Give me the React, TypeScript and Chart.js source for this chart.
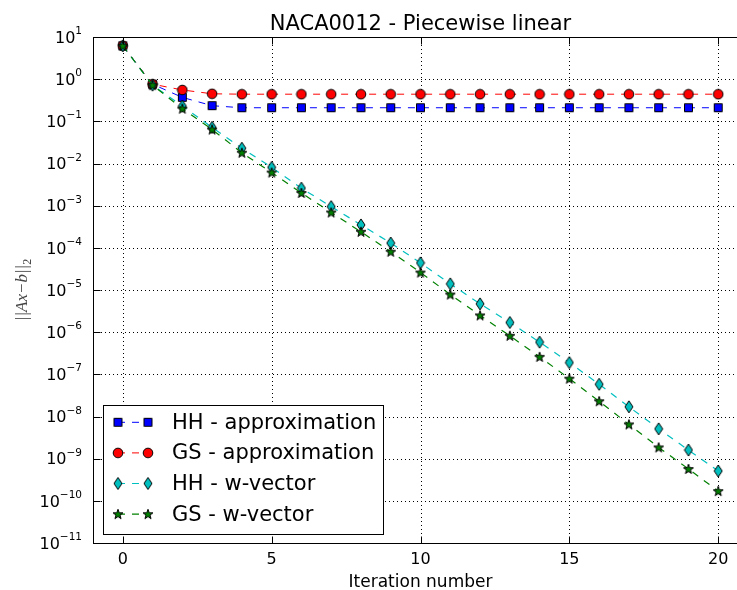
import React, { useEffect, useRef } from 'react';
import { Chart, registerables } from 'chart.js';

Chart.register(...registerables);

const iterations = [0, 1, 2, 3, 4, 5, 6, 7, 8, 9, 10, 11, 12, 13, 14, 15, 16, 17, 18, 19, 20];
const hhApprox = [6.2, 0.76, 0.37, 0.235, 0.21, 0.21, 0.21, 0.21, 0.21, 0.21, 0.21, 0.21, 0.21, 0.21, 0.21, 0.21, 0.21, 0.21, 0.21, 0.21, 0.21];
const gsApprox = [6.2, 0.76, 0.555, 0.45, 0.44, 0.44, 0.44, 0.44, 0.44, 0.44, 0.44, 0.44, 0.44, 0.44, 0.44, 0.44, 0.44, 0.44, 0.44, 0.44, 0.44];
const hhWvec = [6.2, 0.72, 0.23, 0.072, 0.023, 0.0081, 0.0026, 9.5e-4, 3.5e-4, 1.3e-4, 4.4e-5, 1.4e-5, 4.7e-6, 1.7e-6, 5.8e-7, 1.9e-7, 5.8e-8, 1.7e-8, 5.1e-9, 1.6e-9, 5.1e-10];
const gsWvec = [6.2, 0.72, 0.2, 0.064, 0.018, 0.0061, 0.002, 6.9e-4, 2.4e-4, 8.1e-5, 2.6e-5, 7.8e-6, 2.5e-6, 8.2e-7, 2.6e-7, 7.9e-8, 2.3e-8, 6.5e-9, 1.85e-9, 5.7e-10, 1.7e-10];

const seriesLabels = ['HH - approximation', 'GS - approximation', 'HH - w-vector', 'GS - w-vector'];
const xTickValues = [0, 5, 10, 15, 20];
const yTickExponents = [1, 0, -1, -2, -3, -4, -5, -6, -7, -8, -9, -10, -11];
const titleText = 'NACA0012 - Piecewise linear';
const xTitle = 'Iteration number';

const FONT = '"DejaVu Sans", sans-serif';

function makeMarker(kind: string, fill: string): HTMLCanvasElement {
  const c = document.createElement('canvas');
  const ctx = c.getContext('2d')!;
  ctx.lineWidth = 1;
  ctx.strokeStyle = '#000';
  ctx.fillStyle = fill;
  if (kind === 'square') {
    c.width = 11; c.height = 11;
    ctx.lineWidth = 1; ctx.strokeStyle = '#000'; ctx.fillStyle = fill;
    ctx.beginPath();
    ctx.rect(1.5, 1.5, 8, 8);
    ctx.fill(); ctx.stroke();
  } else if (kind === 'circle') {
    c.width = 12; c.height = 12;
    ctx.lineWidth = 1; ctx.strokeStyle = '#000'; ctx.fillStyle = fill;
    ctx.beginPath();
    ctx.arc(6, 6, 4.8, 0, Math.PI * 2);
    ctx.fill(); ctx.stroke();
  } else if (kind === 'diamond') {
    c.width = 10; c.height = 14;
    ctx.lineWidth = 1; ctx.strokeStyle = '#000'; ctx.fillStyle = fill;
    ctx.beginPath();
    ctx.moveTo(5, 1); ctx.lineTo(9, 7); ctx.lineTo(5, 13); ctx.lineTo(1, 7); ctx.closePath();
    ctx.fill(); ctx.stroke();
  } else {
    c.width = 12; c.height = 12;
    ctx.lineWidth = 1; ctx.strokeStyle = '#000'; ctx.fillStyle = fill;
    ctx.lineJoin = 'miter';
    ctx.beginPath();
    const cx = 6, cy = 6.4, ro = 5.2, ri = 2.1;
    for (let i = 0; i < 10; i++) {
      const r = i % 2 === 0 ? ro : ri;
      const ang = -Math.PI / 2 + (i * Math.PI) / 5;
      const px = cx + r * Math.cos(ang);
      const py = cy + r * Math.sin(ang);
      if (i === 0) ctx.moveTo(px, py); else ctx.lineTo(px, py);
    }
    ctx.closePath();
    ctx.fill(); ctx.stroke();
  }
  return c;
}

const mplPlugin = {
  id: 'mplPlugin',
  beforeDatasetsDraw(chart: any) {
    const { ctx, chartArea: a, scales } = chart;
    const x = scales.x, y = scales.y;
    ctx.save();
    ctx.strokeStyle = '#000';
    ctx.lineWidth = 1;
    ctx.setLineDash([1, 3]);
    ctx.beginPath();
    for (const v of xTickValues) {
      const px = Math.round(x.getPixelForValue(v)) + 0.5;
      ctx.moveTo(px, a.top); ctx.lineTo(px, a.bottom);
    }
    for (const e of yTickExponents) {
      const py = Math.round(y.getPixelForValue(Math.pow(10, e))) + 0.5;
      ctx.moveTo(a.left, py); ctx.lineTo(a.right, py);
    }
    ctx.stroke();
    ctx.restore();
  },
  afterDatasetsDraw(chart: any) {
    const { ctx, chartArea: a, scales } = chart;
    const x = scales.x, y = scales.y;
    ctx.save();
    ctx.setLineDash([]);
    ctx.strokeStyle = '#000';
    ctx.lineWidth = 1;
    const L = Math.round(a.left) + 0.5, R = Math.round(a.right) + 0.5;
    const T = Math.round(a.top) + 0.5, B = Math.round(a.bottom) + 0.5;
    ctx.beginPath();
    ctx.rect(L, T, R - L, B - T);
    const tl = 7;
    for (const v of xTickValues) {
      const px = Math.round(x.getPixelForValue(v)) + 0.5;
      ctx.moveTo(px, B); ctx.lineTo(px, B - tl);
      ctx.moveTo(px, T); ctx.lineTo(px, T + tl);
    }
    for (const e of yTickExponents) {
      const py = Math.round(y.getPixelForValue(Math.pow(10, e))) + 0.5;
      ctx.moveTo(L, py); ctx.lineTo(L + tl, py);
      ctx.moveTo(R, py); ctx.lineTo(R - tl, py);
    }
    ctx.stroke();

    // tick labels
    ctx.fillStyle = '#000';
    ctx.textBaseline = 'alphabetic';
    ctx.font = `16px ${FONT}`;
    ctx.textAlign = 'center';
    for (const v of xTickValues) {
      ctx.fillText(String(v), x.getPixelForValue(v), 564);
    }
    const rightEdge = 82;
    for (const e of yTickExponents) {
      const py = y.getPixelForValue(Math.pow(10, e));
      const expStr = e < 0 ? '\u2212' + String(-e) : String(e);
      ctx.font = `10.5px ${FONT}`;
      const ew = ctx.measureText(expStr).width;
      ctx.textAlign = 'left';
      ctx.fillText(expStr, rightEdge - ew, py - 3);
      ctx.font = `16px ${FONT}`;
      const bw = ctx.measureText('10').width;
      ctx.fillText('10', rightEdge - ew - bw, py + 5.8);
    }

    // titles
    const cx = (a.left + a.right) / 2;
    ctx.textAlign = 'center';
    ctx.font = `21px ${FONT}`;
    ctx.fillText(titleText, cx, 30);
    ctx.font = `17px ${FONT}`;
    ctx.fillText(xTitle, cx, 587);

    // y title
    ctx.save();
    ctx.translate(27, (a.top + a.bottom) / 2);
    ctx.rotate(-Math.PI / 2);
    ctx.fillStyle = '#444';
    ctx.font = `italic 17px "Liberation Serif", serif`;
    const main = '||Ax\u2212b||';
    const mw = ctx.measureText(main).width;
    ctx.font = `12px "Liberation Serif", serif`;
    const sw = ctx.measureText('2').width;
    const total = mw + sw;
    ctx.textAlign = 'left';
    ctx.font = `italic 17px "Liberation Serif", serif`;
    ctx.fillText(main, -total / 2, 0);
    ctx.font = `12px "Liberation Serif", serif`;
    ctx.fillText('2', -total / 2 + mw, 4);
    ctx.restore();

    // legend
    const bx = 103.5, by = 405.5, bw2 = 280, bh = 129;
    ctx.fillStyle = '#fff';
    ctx.fillRect(bx, by, bw2, bh);
    ctx.strokeStyle = '#000';
    ctx.lineWidth = 1;
    ctx.strokeRect(bx, by, bw2, bh);
    const rows = [422.3, 452.9, 483.5, 514.1];
    chart.data.datasets.forEach((ds: any, i: number) => {
      const ry = rows[i];
      ctx.save();
      ctx.strokeStyle = ds.borderColor;
      ctx.lineWidth = ds.borderWidth;
      ctx.setLineDash(ds.borderDash);
      ctx.beginPath();
      ctx.moveTo(118, ry); ctx.lineTo(148, ry);
      ctx.stroke();
      ctx.restore();
      const m = ds.pointStyle as HTMLCanvasElement;
      ctx.drawImage(m, 118 - m.width / 2, ry - m.height / 2);
      ctx.drawImage(m, 148 - m.width / 2, ry - m.height / 2);
      ctx.fillStyle = '#000';
      ctx.font = `21px ${FONT}`;
      ctx.textAlign = 'left';
      ctx.textBaseline = 'middle';
      ctx.fillText(ds.label, 172, ry + 1);
    });
    ctx.restore();
  },
};

export default function App() {
  const ref = useRef<HTMLCanvasElement | null>(null);
  useEffect(() => {
    document.body.style.margin = '0';
    const canvas = ref.current!;
    const sq = makeMarker('square', '#0000ff');
    const ci = makeMarker('circle', '#ff0000');
    const di = makeMarker('diamond', '#00bfbf');
    const st = makeMarker('star', '#008000');
    const toPts = (arr: number[]) => iterations.map((it, i) => ({ x: it, y: arr[i] }));
    const chart = new Chart(canvas, {
      type: 'line',
      data: {
        datasets: [
          { label: seriesLabels[0], data: toPts(hhApprox), borderColor: '#0000ff', borderWidth: 1, borderDash: [7, 7], pointStyle: sq as any, pointRadius: 5, order: 4, fill: false, tension: 0 },
          { label: seriesLabels[1], data: toPts(gsApprox), borderColor: '#ff0000', borderWidth: 1, borderDash: [7, 7], pointStyle: ci as any, pointRadius: 5, order: 3, fill: false, tension: 0 },
          { label: seriesLabels[2], data: toPts(hhWvec), borderColor: '#00bfbf', borderWidth: 1.2, borderDash: [7, 7], pointStyle: di as any, pointRadius: 5, order: 2, fill: false, tension: 0 },
          { label: seriesLabels[3], data: toPts(gsWvec), borderColor: '#008000', borderWidth: 1.2, borderDash: [7, 7], pointStyle: st as any, pointRadius: 5, order: 1, fill: false, tension: 0 },
        ],
      },
      options: {
        responsive: false,
        animation: false,
        devicePixelRatio: 1,
        events: [],
        layout: { padding: { top: 37, right: 12, left: 0, bottom: 0 } },
        plugins: { legend: { display: false }, title: { display: false }, tooltip: { enabled: false } },
        scales: {
          x: {
            type: 'linear',
            min: -1,
            max: 21,
            grid: { display: false },
            border: { display: false },
            ticks: { display: false },
            afterBuildTicks: (s: any) => { s.ticks = xTickValues.map((v) => ({ value: v })); },
            afterFit: (s: any) => { s.height = 47; },
          },
          y: {
            type: 'logarithmic',
            min: 1e-11,
            max: 10,
            grid: { display: false },
            border: { display: false },
            ticks: { display: false },
            afterBuildTicks: (s: any) => { s.ticks = yTickExponents.map((e) => ({ value: Math.pow(10, e) })); },
            afterFit: (s: any) => { s.width = 93; },
          },
        },
      },
      plugins: [mplPlugin],
    } as any);
    return () => chart.destroy();
  }, []);
  return (
    <div style={{ width: 737, height: 590, overflow: 'hidden', position: 'relative', background: '#fff' }}>
      <canvas ref={ref} width={760} height={590} style={{ width: 760, height: 590, display: 'block' }} />
    </div>
  );
}
